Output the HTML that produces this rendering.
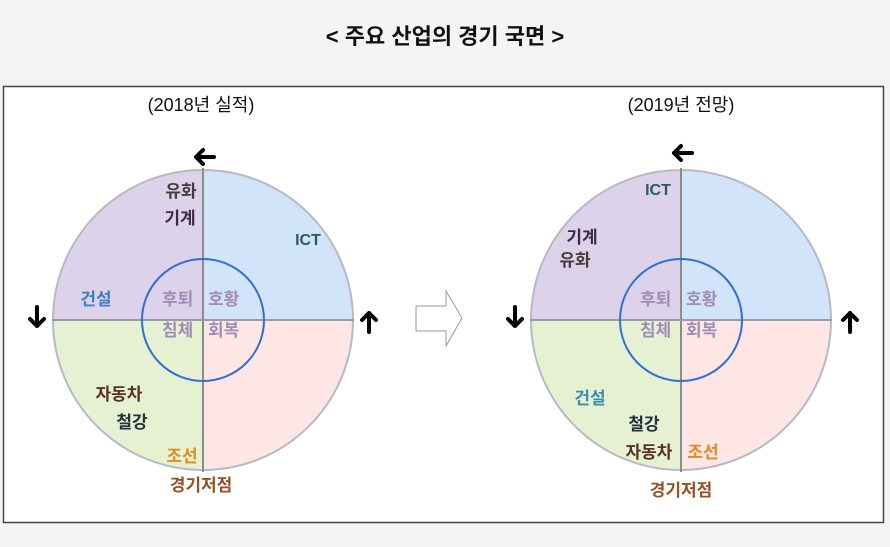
<!DOCTYPE html>
<html><head><meta charset="utf-8"><style>
body{margin:0;background:#f4f4f4;}
svg{display:block}
text{font-family:"Liberation Sans","Noto Sans CJK KR",sans-serif;font-weight:bold;}
text.n{font-weight:normal;}
</style></head><body>
<svg width="890" height="547" viewBox="0 0 890 547" xmlns="http://www.w3.org/2000/svg">
<rect width="890" height="547" fill="#f4f4f4"/>
<text x="445" y="44" font-size="22" text-anchor="middle" fill="#111">&lt; 주요 산업의 경기 국면 &gt;</text>
<rect x="3.5" y="86.5" width="880" height="436" fill="#fff" stroke="#444" stroke-width="1.5"/>

<g>
<path d="M203,320 L203,170 A150,150 0 0 0 53,320 Z" fill="#dcd2ea"/>
<path d="M203,320 L203,170 A150,150 0 0 1 353,320 Z" fill="#d1e4fa"/>
<path d="M203,320 L53,320 A150,150 0 0 0 203,470 Z" fill="#e6f1d2"/>
<path d="M203,320 L353,320 A150,150 0 0 1 203,470 Z" fill="#fde6e4"/>
<circle cx="203" cy="320" r="150" fill="none" stroke="#b9b9c4" stroke-width="2"/>
<line x1="203" y1="168" x2="203" y2="472" stroke="#8c8c8c" stroke-width="2"/>
<line x1="52" y1="320" x2="354" y2="320" stroke="#9a9aa8" stroke-width="2"/>
<circle cx="203" cy="320" r="61" fill="none" stroke="#2f6fd6" stroke-width="2"/>
</g>
<g font-size="17" fill="#a08cb8">
<text x="162" y="305">후퇴</text><text x="208" y="305">호황</text>
<text x="162" y="336">침체</text><text x="208" y="336">회복</text>
</g>
<text x="181" y="197" font-size="17" text-anchor="middle" fill="#4a3a3a">유화</text>
<text x="180" y="224" font-size="17" text-anchor="middle" fill="#3b2c44">기계</text>
<text x="308" y="245" font-size="16" text-anchor="middle" fill="#2a5a5e">ICT</text>
<text x="96" y="305" font-size="17" text-anchor="middle" fill="#3a7fc0">건설</text>
<text x="119" y="400" font-size="17" text-anchor="middle" fill="#5a3028">자동차</text>
<text x="132" y="428" font-size="17" text-anchor="middle" fill="#253040">철강</text>
<text x="182" y="462" font-size="17" text-anchor="middle" fill="#e08a20">조선</text>
<text x="201" y="491" font-size="17" text-anchor="middle" fill="#9a5020">경기저점</text>
<text class="n" x="201" y="111" font-size="18" text-anchor="middle" fill="#111">(2018년 실적)</text>

<g transform="translate(478,0)">
<path d="M203,320 L203,170 A150,150 0 0 0 53,320 Z" fill="#dcd2ea"/>
<path d="M203,320 L203,170 A150,150 0 0 1 353,320 Z" fill="#d1e4fa"/>
<path d="M203,320 L53,320 A150,150 0 0 0 203,470 Z" fill="#e6f1d2"/>
<path d="M203,320 L353,320 A150,150 0 0 1 203,470 Z" fill="#fde6e4"/>
<circle cx="203" cy="320" r="150" fill="none" stroke="#b9b9c4" stroke-width="2"/>
<line x1="203" y1="168" x2="203" y2="472" stroke="#8c8c8c" stroke-width="2"/>
<line x1="52" y1="320" x2="354" y2="320" stroke="#9a9aa8" stroke-width="2"/>
<circle cx="203" cy="320" r="61" fill="none" stroke="#2f6fd6" stroke-width="2"/>
<g font-size="17" fill="#a08cb8">
<text x="162" y="305">후퇴</text><text x="208" y="305">호황</text>
<text x="162" y="336">침체</text><text x="208" y="336">회복</text>
</g>
<text x="180" y="195" font-size="16" text-anchor="middle" fill="#2a5a5e">ICT</text>
<text x="104" y="243" font-size="17" text-anchor="middle" fill="#3b2c44">기계</text>
<text x="97" y="266" font-size="17" text-anchor="middle" fill="#4a3a3a">유화</text>
<text x="112" y="404" font-size="17" text-anchor="middle" fill="#3a8fb0">건설</text>
<text x="166" y="430" font-size="17" text-anchor="middle" fill="#253040">철강</text>
<text x="171" y="458" font-size="17" text-anchor="middle" fill="#5a3028">자동차</text>
<text x="225" y="458" font-size="17" text-anchor="middle" fill="#e08a20">조선</text>
<text x="203" y="496" font-size="17" text-anchor="middle" fill="#9a5020">경기저점</text>
<text class="n" x="203" y="111" font-size="18" text-anchor="middle" fill="#111">(2019년 전망)</text>
</g>

<g fill="none" stroke="#000" stroke-width="4" stroke-linecap="round" stroke-linejoin="round">
<path d="M214,157 H196 M203,150 L196,157 L203,164"/>
<path d="M37,307 V326 M30,319 L37,326 L44,319"/>
<path d="M369,332 V313 M362,320 L369,313 L376,320"/>
<path d="M692,153 H674 M681,146 L674,153 L681,160"/>
<path d="M515,307 V326 M508,319 L515,326 L522,319"/>
<path d="M850,332 V313 M843,320 L850,313 L857,320"/>
</g>
<path d="M416,306 H446 V291 L462,318 L446,346 V331 H416 Z" fill="#fff" stroke="#999" stroke-width="1"/>
</svg>
</body></html>
